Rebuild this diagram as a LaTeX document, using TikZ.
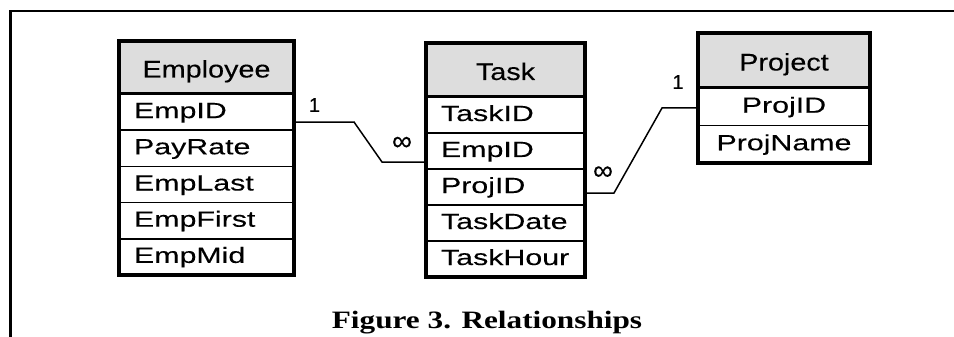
\documentclass[tikz,border=0pt]{standalone}
\usepackage{fontspec}
\setmainfont{Liberation Sans}
\newfontfamily\boxfont[FakeStretch=1.38, FakeBold=0.2]{Liberation Sans}
\newfontfamily\hdrfont[FakeStretch=1.2, FakeBold=0.2]{Liberation Sans}
\newfontfamily\labfont[FakeBold=0.2]{Liberation Sans}
\newfontfamily\capfont[FakeStretch=1.25]{Liberation Serif}
\definecolor{hdr}{RGB}{221,221,221}
\begin{document}
\begin{tikzpicture}[x=1pt,y=-1pt,
  cellbase/.style={draw=black, line width=1.6pt, inner ysep=0pt, anchor=north west,
    font=\boxfont\fontsize{22}{26}\selectfont, outer sep=0pt},
  hdrcell/.style={cellbase, fill=hdr, inner xsep=0pt, text width=#1, align=center,
    font=\hdrfont\fontsize{24}{28}\selectfont, text height=20pt, text depth=0pt},
  leftcell/.style={cellbase, inner xsep=15pt, text width=#1-30pt, align=left,
    text height=16pt, text depth=4pt},
  midcell/.style={cellbase, inner xsep=0pt, text width=#1, align=center,
    text height=16pt, text depth=4pt},
  outline/.style={draw=black, line width=4.5pt},
  hdrline/.style={draw=black, line width=3pt},
  conn/.style={draw=black, line width=1.5pt},
  card/.style={font=\labfont\fontsize{20}{22}\selectfont, inner sep=0pt},
  inf/.style={font=\labfont\fontsize{28}{30}\selectfont, inner sep=0pt},
  frame/.style={draw=black, line width=2.5pt}
]
\useasboundingbox (0,0) rectangle (954,337);

% frame
\coordinate (fbl) at (10.5,337);
\coordinate (ftl) at (10.5,11);
\coordinate (ftr) at (954,11);
\draw[frame] (fbl) -- (ftl) -- (ftr);

% Employee
\node[hdrcell=175pt, minimum height=53pt] (eh) at (119,41) {Employee};
\node[leftcell=175pt, minimum height=36.2pt] (e1) at (119,94) {EmpID};
\node[leftcell=175pt, minimum height=36.2pt] (e2) at (119,130.2) {PayRate};
\node[leftcell=175pt, minimum height=36.2pt] (e3) at (119,166.4) {EmpLast};
\node[leftcell=175pt, minimum height=36.2pt] (e4) at (119,202.6) {EmpFirst};
\node[leftcell=175pt, minimum height=36.2pt] (e5) at (119,238.8) {EmpMid};
\draw[hdrline] (eh.south west) -- (eh.south east);
\draw[outline] (eh.north west) rectangle (e5.south east);

% Task
\node[hdrcell=159pt, minimum height=54pt] (th) at (426,43) {Task};
\node[leftcell=159pt, minimum height=36pt] (t1) at (426,97) {TaskID};
\node[leftcell=159pt, minimum height=36pt] (t2) at (426,133) {EmpID};
\node[leftcell=159pt, minimum height=36pt] (t3) at (426,169) {ProjID};
\node[leftcell=159pt, minimum height=36pt] (t4) at (426,205) {TaskDate};
\node[leftcell=159pt, minimum height=36pt] (t5) at (426,241) {TaskHour};
\draw[hdrline] (th.south west) -- (th.south east);
\draw[outline] (th.north west) rectangle (t5.south east);

% Project
\node[hdrcell=172pt, minimum height=55pt] (ph) at (698,33) {Project};
\node[midcell=172pt, minimum height=37.5pt] (p1) at (698,88) {ProjID};
\node[midcell=172pt, minimum height=37.5pt] (p2) at (698,125.5) {ProjName};
\draw[hdrline] (ph.south west) -- (ph.south east);
\draw[outline] (ph.north west) rectangle (p2.south east);

% connectors
\coordinate (k1) at (354,122);
\coordinate (k2) at (382,162);
\draw[conn] ([yshift=-10pt]e1.east) -- (k1) -- (k2) -- ([yshift=-11pt]t2.west);
\coordinate (k3) at (614,193);
\coordinate (k4) at (662,108);
\draw[conn] ([yshift=-6pt]t3.east) -- (k3) -- (k4) -- ([yshift=-1.25pt]p1.west);

% cardinalities
\node[card] (c1) at (314.5,105) {1};
\node[inf] (c2) at (402,143.5) {∞};
\node[inf] (c3) at (603,173) {∞};
\node[card] (c4) at (678,82) {1};

% caption
\node[font=\capfont\bfseries\fontsize{25}{30}\selectfont, inner sep=0pt, anchor=base]
  (cap) at (487,328) {Figure 3. Relationships};
\end{tikzpicture}
\end{document}
